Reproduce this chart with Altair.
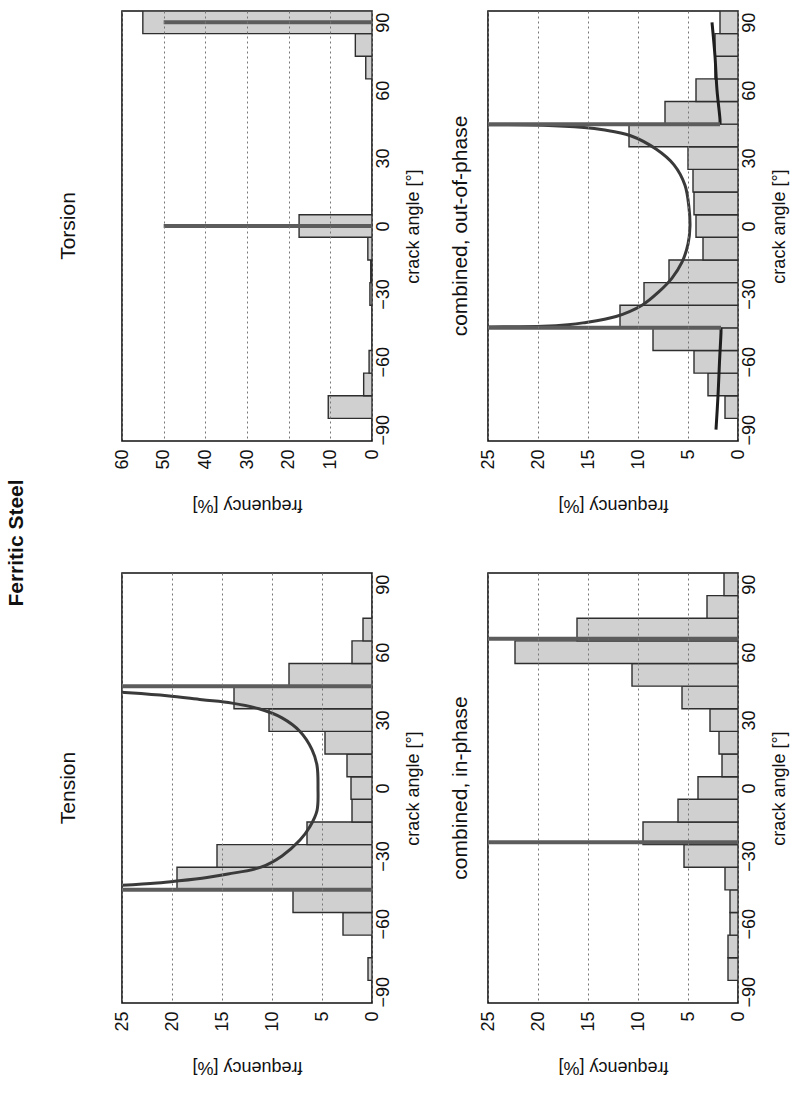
import altair as alt
import pandas as pd

FONT = "Liberation Sans"

# crack-angle classes: 10 degree bins centred on these angles (deg)
centers = [-90, -80, -70, -60, -50, -40, -30, -20, -10, 0,
           10, 20, 30, 40, 50, 60, 70, 80, 90]

# measured crack-angle frequencies per class [%]
tension_freq = [0, 0.4, 0, 2.9, 7.9, 19.5, 15.5, 6.5, 2.0, 2.1,
                2.5, 4.7, 10.3, 13.8, 8.3, 2.0, 0.9, 0, 0]
torsion_freq = [0, 10.5, 2.0, 0.7, 0, 0, 0.5, 0.3, 1.0, 17.5,
                0, 0, 0, 0, 0, 0, 1.5, 4.0, 55.0]
inphase_freq = [0, 1.0, 1.0, 0.8, 0.8, 1.3, 5.4, 9.5, 6.0, 4.0,
                1.6, 1.9, 2.8, 5.6, 10.6, 22.3, 16.1, 3.1, 1.4]
outphase_freq = [0, 1.3, 3.0, 4.4, 8.5, 11.8, 9.4, 6.9, 3.5, 4.2,
                 4.4, 4.5, 5.0, 10.9, 7.3, 4.2, 2.3, 2.3, 1.8]

# predicted distributions (angle [deg], frequency [%])
tension_curve_angle = [-44.6, -43.8, -43.0, -42.0, -41.0, -39.5, -38.0, -35.0, -30.0, -23.0,
                       -17.0, -10.0, 0.0, 10.0, 17.0, 25.0, 31.0, 35.0, 37.5, 39.0,
                       40.8, 42.3, 43.4, 44.6]
tension_curve_freq = [40, 29.0, 25.0, 21.5, 19.3, 16.5, 14.4, 11.1, 9.0, 7.2,
                      6.2, 5.5, 5.4, 5.5, 6.0, 7.2, 9.0, 11.3, 14.0, 17.0,
                      20.5, 25.0, 29.0, 40]

outphase_curve_angle = [-44.8, -44.6, -44.3, -43.6, -42.8, -40.0, -35.0, -29.0, -23.0, -16.0,
                        -8.0, 0.0, 8.0, 18.0, 27.0, 34.0, 40.0, 42.5, 43.5, 44.5,
                        44.7]
outphase_curve_freq = [40, 25.0, 19.5, 17.0, 15.5, 12.2, 9.6, 7.9, 6.6, 5.6,
                       5.0, 4.8, 4.9, 5.3, 6.4, 8.2, 10.8, 13.5, 15.4, 19.5,
                       40]
outphase_outer_left_angle = [-90, -75, -60, -47, -45]
outphase_outer_left_freq = [2.2, 2.0, 1.85, 1.7, 1.7]
outphase_outer_right_angle = [45, 47, 60, 75, 90]
outphase_outer_right_freq = [1.8, 1.8, 2.1, 2.3, 2.6]

# singular parts of the predictions: angle, from-frequency, to-frequency
tension_rules = ([-45, 45], [0, 0], [40, 40])
torsion_rules = ([0, 90], [0, 0], [50, 50])
inphase_rules = ([-24, 66], [0, 0], [40, 40])
outphase_rules = ([-45, 45], [1.7, 1.8], [40, 40])

BAR_FILL = "#d0d0d0"
BAR_EDGE = "#2e2e2e"
CURVE = "#3a3a3a"
OUTER = "#1e1e1e"
RULE = "#5c5c5c"


def panel(title, freq, fmax, fstep, title_offset, rules, curves):
    bars = pd.DataFrame({
        "lo": [c - 5 for c in centers],
        "hi": [c + 5 for c in centers],
        "f": freq,
    })
    bars = bars[bars["f"] > 0]

    xscale = alt.Scale(domain=[0, fmax], reverse=True, nice=False, zero=True)
    yscale = alt.Scale(domain=[-95, 95], nice=False)

    xaxis = alt.Axis(
        values=list(range(0, fmax + 1, fstep)),
        grid=True, gridDash=[2, 3], gridColor="#777777", gridWidth=1,
        domain=False, ticks=False,
        labelAngle=270, labelAlign="right", labelBaseline="middle",
        labelPadding=8, labelFontSize=18, labelFont=FONT, labelColor="#111",
        title="frequency [%]", titleAngle=180, titleBaseline="bottom",
        titleAlign="center", titleFontSize=18, titleFont=FONT,
        titleFontWeight="normal", titlePadding=26, titleColor="#111",
        zindex=1,
    )
    yaxis = alt.Axis(
        orient="right", values=[-90, -60, -30, 0, 30, 60, 90],
        grid=False, domain=False, ticks=False,
        labelAngle=270, labelAlign="center", labelBaseline="top",
        labelPadding=2, labelFontSize=18, labelFont=FONT, labelColor="#111",
        title="crack angle [°]", titleAngle=270, titleBaseline="top",
        titleAlign="center", titleFontSize=18, titleFont=FONT,
        titleFontWeight="normal", titlePadding=12, titleColor="#111",
    )

    layers = [
        alt.Chart(bars).mark_rect(
            fill=BAR_FILL, stroke=BAR_EDGE, strokeWidth=1.4, clip=True
        ).encode(
            x=alt.X("f:Q", scale=xscale, axis=xaxis),
            x2=alt.datum(0),
            y=alt.Y("lo:Q", scale=yscale, axis=yaxis),
            y2="hi:Q",
        )
    ]

    for ang, f, color, width in curves:
        df = pd.DataFrame({"a": ang, "f": f, "i": list(range(len(ang)))})
        layers.append(
            alt.Chart(df).mark_line(
                color=color, strokeWidth=width, clip=True, interpolate="catmull-rom"
            ).encode(
                x=alt.X("f:Q", scale=xscale, axis=xaxis),
                y=alt.Y("a:Q", scale=yscale, axis=yaxis),
                order="i:Q",
            )
        )

    r_ang, r_from, r_to = rules
    rdf = pd.DataFrame({"a": r_ang, "f0": r_from, "f1": r_to})
    layers.append(
        alt.Chart(rdf).mark_rule(color=RULE, strokeWidth=4, clip=True).encode(
            y=alt.Y("a:Q", scale=yscale, axis=yaxis),
            x=alt.X("f0:Q", scale=xscale, axis=xaxis),
            x2="f1:Q",
        )
    )

    return alt.layer(*layers).properties(
        width=250, height=430,
        title=alt.TitleParams(
            title, orient="left", anchor="middle", fontSize=21, font=FONT,
            fontWeight="normal", offset=title_offset, color="#111",
        ),
    )


tension = panel(
    "Tension", tension_freq, 25, 5, 34, tension_rules,
    [(tension_curve_angle, tension_curve_freq, CURVE, 3)],
)
torsion = panel("Torsion", torsion_freq, 60, 10, 34, torsion_rules, [])
inphase = panel("combined, in-phase", inphase_freq, 25, 5, 8, inphase_rules, [])
outphase = panel(
    "combined, out-of-phase", outphase_freq, 25, 5, 8, outphase_rules,
    [
        (outphase_curve_angle, outphase_curve_freq, CURVE, 3),
        (outphase_outer_left_angle, outphase_outer_left_freq, OUTER, 3),
        (outphase_outer_right_angle, outphase_outer_right_freq, OUTER, 3),
    ],
)

chart = alt.vconcat(
    alt.hconcat(torsion, outphase, spacing=26),
    alt.hconcat(tension, inphase, spacing=26),
    spacing=58,
).properties(
    title=alt.TitleParams(
        "Ferritic Steel", orient="left", anchor="middle", fontSize=21,
        font=FONT, fontWeight="bold", offset=30, color="#111",
    ),
    padding={"left": 6, "top": 10, "right": 4, "bottom": 4},
    background="white",
).configure_view(
    stroke="#111", strokeWidth=1.6
)

chart.save("out.html", embed_options={"renderer": "svg", "actions": False})
